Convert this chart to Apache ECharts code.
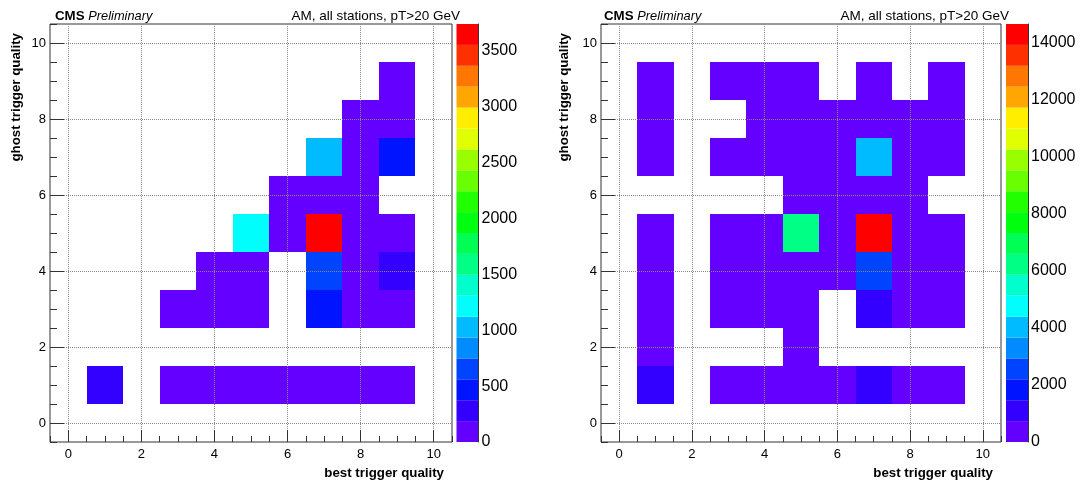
<!DOCTYPE html>
<html>
<head>
<meta charset="utf-8">
<title>best vs ghost trigger quality</title>
<script src="https://cdn.jsdelivr.net/npm/echarts@6/dist/echarts.min.js"></script>
<style>
  html, body { margin: 0; padding: 0; background: #fff; }
  #chart { width: 1084px; height: 484px; }
</style>
</head>
<body>
<div id="chart"></div>
<script>
// left panel: bin centres (best quality, ghost quality) and entries
const bestL  = [9, 8, 9, 7, 8, 9, 6, 7, 8, 5, 6, 7, 8, 9, 4, 5, 7, 8, 9, 3, 4, 5, 7, 8, 9, 1, 3, 4, 5, 6, 7, 8, 9]
const ghostL = [9, 8, 8, 7, 7, 7, 6, 6, 6, 5, 5, 5, 5, 5, 4, 4, 4, 4, 4, 3, 3, 3, 3, 3, 3, 1, 1, 1, 1, 1, 1, 1, 1]
const countL = [60, 90, 120, 1050, 150, 470, 100, 140, 110, 1230, 130, 3742, 160, 80, 70, 110, 680, 170, 300,
                40, 60, 90, 520, 150, 100, 260, 30, 50, 60, 80, 120, 90, 70]
const zMaxL = 3742
const zTicksL = [0, 500, 1000, 1500, 2000, 2500, 3000, 3500]

// right panel
const bestR  = [1, 3, 4, 5, 7, 9,
                1, 4, 5, 6, 7, 8, 9,
                1, 3, 4, 5, 6, 7, 8, 9,
                5, 6, 7, 8,
                1, 3, 4, 5, 6, 7, 8, 9,
                1, 3, 4, 5, 6, 7, 8, 9,
                1, 3, 4, 5, 7, 8, 9,
                1, 5,
                1, 3, 4, 5, 6, 7, 8, 9]
const ghostR = [9, 9, 9, 9, 9, 9,
                8, 8, 8, 8, 8, 8, 8,
                7, 7, 7, 7, 7, 7, 7, 7,
                6, 6, 6, 6,
                5, 5, 5, 5, 5, 5, 5, 5,
                4, 4, 4, 4, 4, 4, 4, 4,
                3, 3, 3, 3, 3, 3, 3,
                2, 2,
                1, 1, 1, 1, 1, 1, 1, 1]
const countR = [150, 100, 120, 160, 200, 90,
                200, 180, 250, 300, 400, 350, 220,
                180, 150, 210, 300, 350, 4100, 500, 250,
                300, 400, 600, 350,
                200, 250, 350, 6300, 450, 14655, 600, 300,
                220, 300, 400, 500, 550, 2600, 650, 350,
                180, 200, 300, 350, 1100, 450, 280,
                150, 200,
                1000, 150, 250, 300, 400, 1200, 500, 300]
const zMaxR = 14655
const zTicksR = [0, 2000, 4000, 6000, 8000, 10000, 12000, 14000]

const axisTicks = [0, 2, 4, 6, 8, 10]
const titleText = 'AM, all stations, pT>20 GeV'

// ROOT "pretty" palette, 20 contours
const palette = ['#6300ff', '#3300ff', '#0014ff', '#0044ff', '#008bff', '#00bbff', '#00fffc', '#00ffcc',
                 '#00ff85', '#00ff55', '#00ff0e', '#22ff00', '#69ff00', '#99ff00', '#e0ff00', '#ffee00',
                 '#ffa700', '#ff7700', '#ff3000', '#ff0000']

const FONT = "'Liberation Sans', Arial, Helvetica, sans-serif"

const panels = [
    { best: bestL, ghost: ghostL, counts: countL, zMax: zMaxL, zTicks: zTicksL,
      frame: { left: 50, width: 402 }, bar: { left: 456.5, width: 22 },
      cmsLeft: 55, selRight: 624, xTitleX: 444, yTitleX: 16 },
    { best: bestR, ghost: ghostR, counts: countR, zMax: zMaxR, zTicks: zTicksR,
      frame: { left: 601, width: 400 }, bar: { left: 1006, width: 22 },
      cmsLeft: 604, selRight: 75, xTitleX: 993, yTitleX: 564 },
]

const TOP = 24
const HEIGHT = 418

const grids = []
const xAxes = []
const yAxes = []
const series = []
const visualMaps = []
const titles = []
const graphics = []

const tickStyle = { color: '#333', width: 1 }
const labelStyle = { color: '#000', fontSize: 13, fontFamily: FONT }
const noLine = { show: false, onZero: false }

const cellItem = (params, api) => {
    const x = api.value(0)
    const y = api.value(1)
    const a = api.coord([x - 0.5, y + 0.5])
    const b = api.coord([x + 0.5, y - 0.5])
    const x0 = Math.round(a[0]), y0 = Math.round(a[1])
    return {
        type: 'rect',
        shape: { x: x0, y: y0, width: Math.round(b[0]) - x0, height: Math.round(b[1]) - y0 },
        style: { fill: api.visual('color') },
    }
}

panels.forEach((p, k) => {
    grids.push({ left: p.frame.left, top: TOP, width: p.frame.width, height: HEIGHT,
        show: true, borderColor: '#333', borderWidth: 1, backgroundColor: 'transparent' })

    // major + minor axes for the plot frame
    xAxes.push({
        gridIndex: k, type: 'value', min: -0.5, max: 10.5, position: 'bottom', z: 3,
        axisLine: noLine,
        axisTick: { inside: true, length: 12, customValues: axisTicks, lineStyle: tickStyle },
        axisLabel: { customValues: axisTicks, margin: 6, ...labelStyle },
        splitLine: { show: true, lineStyle: { color: '#888', type: 'dotted', width: 1 } },
    })
    xAxes.push({
        gridIndex: k, type: 'value', min: -0.5, max: 10.5, interval: 0.5, position: 'bottom', z: 3,
        axisLine: noLine,
        axisTick: { inside: true, length: 6, lineStyle: tickStyle },
        axisLabel: { show: false },
        splitLine: { show: false },
    })
    yAxes.push({
        gridIndex: k, type: 'value', min: -0.5, max: 10.5, position: 'left', z: 3,
        axisLine: noLine,
        axisTick: { inside: true, length: 14, customValues: axisTicks, lineStyle: tickStyle },
        axisLabel: { customValues: axisTicks, margin: 4, ...labelStyle },
        splitLine: { show: true, lineStyle: { color: '#888', type: 'dotted', width: 1 } },
    })
    yAxes.push({
        gridIndex: k, type: 'value', min: -0.5, max: 10.5, interval: 0.5, position: 'left', z: 3,
        axisLine: noLine,
        axisTick: { inside: true, length: 7, lineStyle: tickStyle },
        axisLabel: { show: false },
        splitLine: { show: false },
    })

    series.push({
        type: 'custom',
        xAxisIndex: 2 * k,
        yAxisIndex: 2 * k,
        renderItem: cellItem,
        encode: { x: 0, y: 1 },
        data: p.best.map((b, i) => [b, p.ghost[i], p.counts[i]]),
    })

    const step = p.zMax / palette.length
    visualMaps.push({
        type: 'piecewise', show: false, seriesIndex: k, dimension: 2,
        pieces: palette.map((c, i) => (i === palette.length - 1
            ? { gte: i * step, lte: p.zMax + 1, color: c }
            : { gte: i * step, lt: (i + 1) * step, color: c })),
    })

    titles.push({
        text: '{cms|CMS} {pre|Preliminary}', left: p.cmsLeft, top: 9, padding: 0,
        textStyle: {
            fontSize: 13.5, fontFamily: FONT, color: '#000',
            rich: {
                cms: { fontWeight: 'bold', fontSize: 13.3, fontFamily: FONT, color: '#000' },
                pre: { fontStyle: 'italic', fontWeight: 'normal', fontSize: 12.8, fontFamily: FONT, color: '#000' },
            },
        },
    })
    titles.push({
        text: titleText, right: p.selRight, top: 9, padding: 0,
        textStyle: { fontSize: 13.5, fontWeight: 'normal', fontFamily: FONT, color: '#000' },
    })

    graphics.push({
        type: 'text', x: p.xTitleX, y: 473,
        style: { text: 'best trigger quality', fontSize: 13.3, fontWeight: 'bold', fontFamily: FONT,
                 fill: '#000', align: 'right', verticalAlign: 'middle' },
    })
    graphics.push({
        type: 'text', x: p.yTitleX, y: 33, rotation: Math.PI / 2,
        style: { text: 'ghost trigger quality', fontSize: 13.3, fontWeight: 'bold', fontFamily: FONT,
                 fill: '#000', align: 'right', verticalAlign: 'middle' },
    })
})

// colour bars
panels.forEach((p, k) => {
    const gi = grids.length
    grids.push({ left: p.bar.left, top: TOP, width: p.bar.width, height: HEIGHT })
    xAxes.push({ gridIndex: gi, type: 'category', data: [''], show: false })
    yAxes.push({
        gridIndex: gi, type: 'value', min: 0, max: p.zMax, position: 'right', z: 3,
        axisLine: { show: true, onZero: false, lineStyle: { color: '#333', width: 1 } },
        axisTick: { inside: true, length: 12, customValues: p.zTicks, lineStyle: tickStyle },
        axisLabel: { customValues: p.zTicks, margin: 3, color: '#000', fontSize: 16, fontFamily: FONT,
                     formatter: v => String(v) },
        splitLine: { show: false },
    })
    const axisIdx = xAxes.length - 1
    palette.forEach(c => {
        series.push({
            type: 'bar', xAxisIndex: axisIdx, yAxisIndex: axisIdx, stack: 'cb' + k,
            barWidth: '100%', itemStyle: { color: c }, silent: true,
            data: [p.zMax / palette.length],
        })
    })
})

const chart = echarts.init(document.getElementById('chart'))
chart.setOption({
    animation: false,
    backgroundColor: '#fff',
    title: titles,
    grid: grids,
    xAxis: xAxes,
    yAxis: yAxes,
    visualMap: visualMaps,
    graphic: graphics,
    series,
})
</script>
</body>
</html>
